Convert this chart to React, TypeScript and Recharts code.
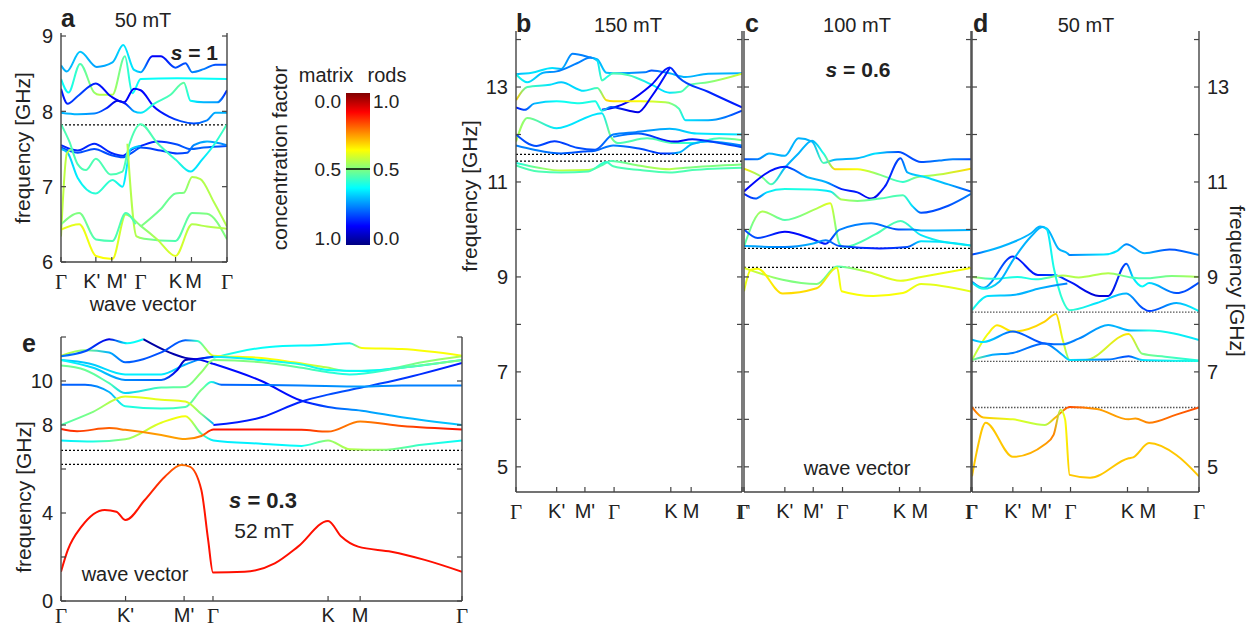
import { LineChart, Line, XAxis, YAxis, ReferenceLine } from 'recharts'

// [position along the Γ-K'-M'-Γ-K-M-Γ path (0..1), frequency in GHz, rod concentration (0..1)]
type Pt = [number, number, number]

const pathLabels = ['Γ', "K'", "M'", 'Γ', 'K', 'M', 'Γ']
const ticksA = [0, 0.21, 0.306, 0.48, 0.69, 0.786, 1]
const ticksBCD = [0, 0.18, 0.305, 0.434, 0.685, 0.775, 1]
const ticksE = [0, 0.161, 0.307, 0.379, 0.666, 0.746, 1]

const freqTicksA = [6, 7, 8, 9]
const freqTicksBCD = [5, 6, 7, 8, 9, 10, 11, 12, 13, 14]
const freqTicksE = [0, 2, 4, 6, 8, 10, 12]
const labelsA = [6, 7, 8, 9]
const labelsBCD = [5, 7, 9, 11, 13]
const labelsE = [0, 4, 8, 10]

const gapsA = [7.82]
const gapsB = [11.58, 11.44]
const gapsC = [9.6, 9.2]
const gapsD = [8.26, 7.22, 6.25]
const gapsE = [6.85, 6.21]

const bandsA: Pt[][] = [
  [[0, 8.61, 0.3], [0.035, 8.53, 0.3], [0.115, 8.79, 0.32], [0.215, 8.59, 0.28], [0.31, 8.65, 0.3], [0.375, 8.88, 0.35], [0.44, 8.55, 0.35], [0.48, 8.52, 0.3], [0.55, 8.73, 0.12], [0.6, 8.73, 0.12], [0.69, 8.58, 0.2], [0.75, 8.64, 0.2], [0.79, 8.52, 0.25], [0.86, 8.56, 0.25], [0.93, 8.62, 0.2], [1, 8.62, 0.2]],
  [[0, 8.43, 0.38], [0.045, 8.25, 0.38], [0.115, 8.63, 0.45], [0.2, 8.25, 0.52], [0.23, 8.22, 0.55], [0.31, 8.22, 0.55], [0.385, 8.73, 0.45], [0.43, 8.24, 0.38], [0.48, 8.43, 0.38], [0.7, 8.44, 0.38], [1, 8.43, 0.38]],
  [[0, 8.3, 0.14], [0.04, 8.1, 0.16], [0.1, 8.2, 0.2], [0.21, 8.37, 0.15], [0.3, 8.2, 0.12], [0.38, 8.12, 0.12], [0.44, 8.3, 0.12], [0.48, 8.28, 0.13], [0.56, 8.06, 0.13], [0.65, 7.93, 0.16], [0.72, 7.87, 0.2], [0.8, 7.84, 0.2], [0.88, 7.88, 0.25], [0.93, 7.98, 0.3], [1, 7.98, 0.3]],
  [[0, 7.98, 0.3], [0.1, 7.96, 0.3], [0.2, 7.97, 0.26], [0.28, 8.05, 0.15], [0.34, 8.14, 0.1], [0.39, 8.1, 0.15], [0.44, 8.0, 0.3], [0.48, 7.98, 0.35], [0.56, 8.1, 0.42], [0.66, 8.22, 0.45], [0.74, 8.38, 0.47], [0.78, 8.14, 0.38], [0.86, 8.12, 0.3], [0.94, 8.12, 0.28], [1, 8.28, 0.15]],
  [[0, 7.55, 0.16], [0.1, 7.48, 0.16], [0.2, 7.57, 0.16], [0.3, 7.45, 0.16], [0.37, 7.41, 0.16], [0.43, 7.5, 0.16], [0.48, 7.54, 0.16], [0.58, 7.6, 0.16], [0.7, 7.56, 0.2], [0.78, 7.5, 0.22], [0.86, 7.52, 0.22], [1, 7.54, 0.2]],
  [[0, 7.52, 0.2], [0.1, 7.45, 0.2], [0.2, 7.5, 0.2], [0.3, 7.42, 0.2], [0.37, 7.39, 0.2], [0.44, 7.47, 0.2], [0.48, 7.52, 0.2], [0.6, 7.48, 0.18], [0.7, 7.44, 0.18], [0.76, 7.45, 0.2], [0.8, 7.55, 0.26], [0.88, 7.6, 0.3], [1, 7.55, 0.25]],
  [[0, 7.5, 0.3], [0.04, 7.45, 0.32], [0.1, 7.12, 0.36], [0.21, 6.91, 0.42], [0.31, 7.09, 0.42], [0.37, 7.0, 0.36], [0.42, 7.5, 0.35], [0.48, 7.54, 0.3]],
  [[0, 7.83, 0.45], [0.05, 7.6, 0.45], [0.1, 7.3, 0.45], [0.15, 7.22, 0.45], [0.21, 7.37, 0.45], [0.3, 7.16, 0.45], [0.37, 7.2, 0.45], [0.41, 7.55, 0.45], [0.48, 7.83, 0.45], [0.58, 7.58, 0.45], [0.69, 7.36, 0.42], [0.78, 7.2, 0.35], [0.85, 7.36, 0.35], [0.92, 7.55, 0.4], [1, 7.83, 0.45]],
  [[0, 6.34, 0.56], [0.035, 7.44, 0.56], [0.06, 7.5, 0.5]],
  [[0.4, 7.57, 0.55], [0.455, 6.34, 0.55], [0.5, 6.31, 0.5], [0.69, 6.28, 0.45], [0.79, 6.65, 0.48], [0.88, 6.64, 0.5], [1, 6.3, 0.5]],
  [[0.48, 6.47, 0.5], [0.6, 6.7, 0.48], [0.69, 6.91, 0.48], [0.74, 6.92, 0.5], [0.79, 7.13, 0.55], [0.84, 7.1, 0.55], [0.92, 6.8, 0.55], [1, 6.47, 0.55]],
  [[0, 6.43, 0.6], [0.11, 6.5, 0.6], [0.21, 6.08, 0.62], [0.31, 6.04, 0.62], [0.39, 6.63, 0.55], [0.48, 6.48, 0.5], [0.58, 6.3, 0.55], [0.69, 6.08, 0.6], [0.79, 6.5, 0.55], [0.88, 6.47, 0.55], [1, 6.44, 0.55]],
  [[0, 6.5, 0.5], [0.11, 6.65, 0.5], [0.21, 6.3, 0.45], [0.31, 6.28, 0.45], [0.39, 6.65, 0.45], [0.45, 6.5, 0.45]],
]

const bandsB: Pt[][] = [
  [[0, 13.27, 0.3], [0.07, 13.3, 0.35], [0.16, 13.4, 0.35], [0.2, 13.38, 0.3], [0.25, 13.7, 0.25], [0.33, 13.62, 0.25], [0.36, 13.58, 0.3], [0.4, 13.3, 0.32], [0.43, 13.29, 0.3], [0.57, 13.31, 0.25], [0.6, 13.35, 0.2], [0.68, 13.29, 0.3], [0.75, 13.21, 0.3], [0.85, 13.28, 0.3], [1, 13.29, 0.3]],
  [[0, 13.27, 0.4], [0.05, 13.1, 0.35], [0.12, 13.3, 0.3], [0.18, 13.33, 0.25], [0.27, 13.5, 0.25], [0.33, 13.62, 0.25], [0.36, 13.55, 0.35], [0.38, 13.14, 0.45], [0.4, 13.2, 0.4], [0.43, 13.29, 0.45], [0.5, 13.25, 0.45], [0.6, 13.05, 0.35], [0.68, 12.88, 0.35], [0.73, 12.9, 0.45], [0.77, 13.05, 0.45], [0.85, 13.1, 0.5], [1, 13.28, 0.58]],
  [[0.38, 12.52, 0.12], [0.44, 12.58, 0.12], [0.5, 12.7, 0.12], [0.6, 13.05, 0.12], [0.68, 13.41, 0.15], [0.72, 13.2, 0.2], [0.85, 12.9, 0.16], [1, 12.57, 0.15]],
  [[0, 12.72, 0.68], [0.05, 13.0, 0.45], [0.15, 13.05, 0.35], [0.2, 13.1, 0.32], [0.3, 12.92, 0.35], [0.36, 12.98, 0.45], [0.4, 12.72, 0.66], [0.43, 12.7, 0.66], [0.55, 12.7, 0.62], [0.66, 12.68, 0.55], [0.72, 12.55, 0.45], [0.75, 12.3, 0.35], [0.85, 12.3, 0.3], [1, 12.5, 0.18]],
  [[0, 12.57, 0.15], [0.04, 12.52, 0.2], [0.08, 12.65, 0.3], [0.18, 12.7, 0.38], [0.28, 12.66, 0.4], [0.35, 12.7, 0.4], [0.38, 12.5, 0.4], [0.42, 12.58, 0.2], [0.5, 12.5, 0.1], [0.54, 12.47, 0.1], [0.6, 12.8, 0.12], [0.68, 13.4, 0.15]],
  [[0, 11.85, 0.55], [0.05, 12.35, 0.5], [0.18, 12.13, 0.35], [0.38, 12.45, 0.35], [0.42, 11.95, 0.5], [0.45, 11.82, 0.45], [0.58, 11.92, 0.45], [0.7, 11.82, 0.45], [0.78, 11.82, 0.4], [0.9, 11.92, 0.45], [1, 11.88, 0.5]],
  [[0, 12.0, 0.2], [0.09, 11.76, 0.2], [0.17, 11.86, 0.18], [0.27, 11.72, 0.2], [0.35, 11.68, 0.2], [0.43, 12.0, 0.25], [0.53, 12.05, 0.25], [0.68, 12.12, 0.3], [0.8, 12.02, 0.35], [1, 12.0, 0.35]],
  [[0, 11.77, 0.25], [0.08, 11.68, 0.25], [0.2, 11.6, 0.22], [0.3, 11.64, 0.2], [0.35, 11.66, 0.22], [0.43, 11.77, 0.25], [0.55, 11.7, 0.2], [0.65, 11.6, 0.18], [0.68, 11.6, 0.2], [0.72, 11.62, 0.3], [0.78, 11.8, 0.3], [0.85, 11.85, 0.3], [1, 11.77, 0.25]],
  [[0.43, 11.95, 0.25], [0.54, 12.02, 0.22], [0.7, 11.85, 0.12], [0.78, 11.9, 0.15], [0.9, 11.82, 0.2], [1, 11.73, 0.2]],
  [[0, 11.4, 0.4], [0.1, 11.3, 0.5], [0.2, 11.24, 0.56], [0.32, 11.25, 0.56], [0.38, 11.35, 0.45], [0.42, 11.44, 0.45], [0.55, 11.34, 0.52], [0.68, 11.27, 0.56], [0.75, 11.3, 0.5], [1, 11.37, 0.5]],
  [[0, 11.35, 0.45], [0.1, 11.22, 0.45], [0.2, 11.2, 0.45], [0.32, 11.22, 0.45], [0.4, 11.42, 0.42], [0.43, 11.33, 0.45], [0.55, 11.25, 0.45], [0.68, 11.2, 0.45], [0.78, 11.25, 0.45], [1, 11.3, 0.45]],
]

const bandsC: Pt[][] = [
  [[0, 11.48, 0.2], [0.06, 11.48, 0.25], [0.11, 11.6, 0.3], [0.18, 11.55, 0.3], [0.24, 11.92, 0.3], [0.3, 11.85, 0.3], [0.35, 11.4, 0.45], [0.4, 11.47, 0.3], [0.5, 11.5, 0.3], [0.58, 11.6, 0.35], [0.68, 11.63, 0.2], [0.78, 11.42, 0.2], [0.86, 11.45, 0.25], [0.92, 11.48, 0.25], [1, 11.48, 0.2]],
  [[0, 11.28, 0.65], [0.08, 11.1, 0.5], [0.12, 10.95, 0.45], [0.18, 11.3, 0.3], [0.24, 11.6, 0.3], [0.3, 11.87, 0.3], [0.35, 11.6, 0.4], [0.4, 11.27, 0.66], [0.5, 11.27, 0.62], [0.6, 11.15, 0.5], [0.7, 11.0, 0.42], [0.76, 11.1, 0.5], [0.85, 11.15, 0.55], [1, 11.28, 0.66]],
  [[0, 10.8, 0.12], [0.18, 11.32, 0.15], [0.28, 11.1, 0.3], [0.36, 11.0, 0.3], [0.43, 10.85, 0.15], [0.5, 10.78, 0.15], [0.56, 10.65, 0.1], [0.62, 10.9, 0.15], [0.69, 11.5, 0.2], [0.72, 11.2, 0.3], [0.8, 11.1, 0.35], [0.9, 10.95, 0.3], [1, 10.8, 0.2]],
  [[0, 10.75, 0.15], [0.05, 10.65, 0.2], [0.1, 10.78, 0.35], [0.18, 10.85, 0.4], [0.3, 10.84, 0.4], [0.38, 10.8, 0.35], [0.43, 10.63, 0.55], [0.5, 10.6, 0.5], [0.6, 10.65, 0.45], [0.7, 10.72, 0.45], [0.74, 10.5, 0.35], [0.78, 10.35, 0.2], [0.9, 10.5, 0.2], [1, 10.75, 0.25]],
  [[0, 9.64, 0.45], [0.08, 10.38, 0.55], [0.18, 10.2, 0.45], [0.32, 10.44, 0.55], [0.38, 10.55, 0.6], [0.42, 9.7, 0.45], [0.44, 9.63, 0.45], [0.58, 9.9, 0.45], [0.69, 10.18, 0.45], [0.78, 9.88, 0.35], [1, 9.66, 0.45]],
  [[0, 10.0, 0.2], [0.06, 9.82, 0.2], [0.18, 9.95, 0.12], [0.3, 9.8, 0.15], [0.36, 9.7, 0.15], [0.42, 9.99, 0.25], [0.56, 10.13, 0.25], [0.68, 10.0, 0.2], [0.74, 10.0, 0.25], [0.78, 9.98, 0.3], [1, 9.99, 0.3]],
  [[0, 9.65, 0.3], [0.18, 9.63, 0.25], [0.3, 9.7, 0.3], [0.36, 9.77, 0.25], [0.42, 9.65, 0.2], [0.6, 9.6, 0.15], [0.72, 9.63, 0.2], [0.78, 9.75, 0.35], [0.86, 9.74, 0.35], [1, 9.66, 0.35]],
  [[0, 9.19, 0.6], [0.17, 8.94, 0.5], [0.32, 8.85, 0.5], [0.41, 9.22, 0.45], [0.55, 9.1, 0.58], [0.69, 8.92, 0.6], [0.78, 9.0, 0.6], [1, 9.19, 0.62]],
  [[0, 8.7, 0.6], [0.03, 9.15, 0.62], [0.06, 9.17, 0.62], [0.17, 8.65, 0.66], [0.32, 8.76, 0.66], [0.41, 9.2, 0.6], [0.43, 8.7, 0.62], [0.57, 8.6, 0.62], [0.7, 8.66, 0.62], [0.78, 8.85, 0.6], [1, 8.69, 0.6]],
]

const bandsD: Pt[][] = [
  [[0, 9.47, 0.18], [0.07, 9.55, 0.3], [0.18, 9.73, 0.3], [0.26, 9.92, 0.3], [0.3, 10.06, 0.3], [0.33, 10.02, 0.3], [0.38, 9.6, 0.3], [0.42, 9.5, 0.3], [0.43, 9.46, 0.25], [0.58, 9.47, 0.35], [0.64, 9.55, 0.35], [0.68, 9.69, 0.25], [0.76, 9.5, 0.3], [0.87, 9.58, 0.2], [1, 9.46, 0.25]],
  [[0, 8.9, 0.2], [0.05, 8.77, 0.3], [0.18, 9.43, 0.15], [0.29, 9.04, 0.15], [0.36, 9.04, 0.2], [0.43, 8.9, 0.15], [0.56, 8.6, 0.08], [0.6, 8.6, 0.1], [0.68, 9.28, 0.2], [0.71, 8.98, 0.35], [0.75, 8.8, 0.38], [0.78, 8.87, 0.35], [0.9, 8.66, 0.2], [1, 8.88, 0.2]],
  [[0, 9.0, 0.55], [0.1, 8.96, 0.4], [0.2, 9.0, 0.4], [0.28, 8.95, 0.4], [0.4, 9.03, 0.55], [0.47, 8.99, 0.55], [0.6, 9.08, 0.55], [0.7, 8.99, 0.45], [0.76, 8.97, 0.45], [0.88, 9.02, 0.5], [1, 9.0, 0.55]],
  [[0, 8.88, 0.35], [0.05, 8.75, 0.4], [0.12, 8.9, 0.3], [0.18, 9.35, 0.3], [0.26, 9.85, 0.3], [0.31, 10.05, 0.3], [0.33, 10.0, 0.35], [0.36, 9.2, 0.4], [0.4, 8.5, 0.42], [0.43, 8.3, 0.42], [0.55, 8.45, 0.35], [0.68, 8.65, 0.3], [0.75, 8.35, 0.2], [0.78, 8.28, 0.18], [0.9, 8.45, 0.3], [1, 8.28, 0.38]],
  [[0, 8.3, 0.4], [0.07, 8.6, 0.35], [0.18, 8.62, 0.3], [0.3, 8.76, 0.3], [0.42, 8.86, 0.25]],
  [[0, 7.25, 0.55], [0.07, 7.8, 0.62], [0.11, 7.98, 0.65], [0.18, 7.85, 0.65], [0.32, 8.06, 0.67], [0.37, 8.22, 0.67], [0.4, 7.67, 0.6], [0.43, 7.25, 0.5], [0.5, 7.25, 0.55], [0.69, 7.8, 0.65], [0.75, 7.38, 0.5], [0.85, 7.32, 0.45], [1, 7.24, 0.4]],
  [[0, 7.68, 0.3], [0.05, 7.63, 0.35], [0.18, 7.85, 0.22], [0.32, 7.6, 0.2], [0.4, 7.58, 0.25], [0.47, 7.7, 0.25], [0.6, 7.99, 0.3], [0.7, 7.87, 0.3], [0.78, 7.87, 0.4], [1, 7.67, 0.35]],
  [[0, 7.25, 0.5], [0.08, 7.35, 0.3], [0.18, 7.4, 0.25], [0.32, 7.6, 0.22], [0.4, 7.35, 0.3], [0.43, 7.25, 0.35], [0.6, 7.26, 0.25], [0.69, 7.33, 0.2], [0.75, 7.25, 0.35], [1, 7.23, 0.4]],
  [[0, 6.26, 0.78], [0.05, 6.04, 0.68], [0.18, 6.0, 0.6], [0.32, 5.88, 0.55], [0.37, 6.05, 0.7], [0.43, 6.26, 0.8], [0.55, 6.22, 0.72], [0.69, 6.0, 0.72], [0.72, 6.02, 0.72], [0.78, 5.93, 0.75], [0.9, 6.1, 0.78], [1, 6.25, 0.8]],
  [[0, 4.8, 0.68], [0.02, 5.3, 0.68], [0.06, 5.93, 0.68], [0.18, 5.21, 0.68], [0.32, 5.47, 0.72], [0.36, 5.68, 0.75], [0.39, 6.2, 0.55], [0.41, 6.0, 0.62], [0.43, 4.83, 0.68], [0.52, 4.77, 0.68], [0.69, 5.18, 0.68], [0.71, 5.2, 0.68], [0.78, 5.5, 0.68], [0.9, 5.25, 0.68], [1, 4.8, 0.68]],
]

const bandsE: Pt[][] = [
  [[0.205, 11.9, 0.03], [0.27, 11.3, 0.04], [0.31, 11.05, 0.05], [0.35, 10.95, 0.1], [0.38, 10.78, 0.14], [0.5, 10.0, 0.13], [0.6, 9.1, 0.14], [0.666, 8.82, 0.2], [0.75, 8.65, 0.28], [0.85, 8.35, 0.3], [1, 8.0, 0.32]],
  [[0.38, 8.0, 0.15], [0.5, 8.35, 0.15], [0.6, 9.07, 0.16], [0.666, 9.38, 0.2], [0.75, 9.7, 0.2], [0.85, 10.1, 0.18], [1, 10.82, 0.15]],
  [[0.38, 11.05, 0.4], [0.52, 11.55, 0.38], [0.66, 11.65, 0.36], [0.72, 11.72, 0.36], [0.75, 11.5, 0.62], [0.85, 11.45, 0.62], [1, 11.15, 0.62]],
  [[0, 11.15, 0.58], [0.06, 11.4, 0.5], [0.12, 11.3, 0.3], [0.16, 10.85, 0.22], [0.25, 11.3, 0.2], [0.31, 11.85, 0.22], [0.34, 11.82, 0.42], [0.38, 11.15, 0.62], [0.5, 11.05, 0.62], [0.58, 10.85, 0.62], [0.66, 10.62, 0.55], [0.72, 10.45, 0.45], [0.8, 10.5, 0.45], [0.9, 10.85, 0.5], [1, 11.12, 0.55]],
  [[0, 11.12, 0.25], [0.06, 11.35, 0.2], [0.12, 11.9, 0.1], [0.165, 11.72, 0.38], [0.205, 11.9, 0.38]],
  [[0, 10.95, 0.32], [0.07, 10.8, 0.32], [0.16, 10.3, 0.36], [0.25, 10.3, 0.36], [0.31, 10.75, 0.3], [0.34, 10.95, 0.25], [0.38, 11.1, 0.35], [0.5, 10.95, 0.38], [0.6, 10.75, 0.4], [0.666, 10.5, 0.38], [0.75, 10.45, 0.38], [0.85, 10.6, 0.36], [1, 10.95, 0.36]],
  [[0, 10.95, 0.38], [0.08, 10.6, 0.34], [0.16, 10.05, 0.26], [0.25, 10.05, 0.22], [0.29, 10.5, 0.1], [0.31, 10.95, 0.05], [0.34, 11.0, 0.1], [0.38, 11.1, 0.2]],
  [[0, 10.7, 0.48], [0.06, 10.5, 0.48], [0.12, 9.9, 0.45], [0.16, 9.45, 0.33], [0.25, 9.7, 0.45], [0.31, 9.73, 0.48], [0.35, 10.4, 0.52], [0.38, 10.95, 0.5], [0.5, 10.85, 0.5], [0.6, 10.6, 0.46], [0.666, 10.4, 0.42], [0.72, 10.3, 0.4], [0.85, 10.6, 0.45], [1, 10.95, 0.5]],
  [[0, 9.83, 0.22], [0.06, 9.83, 0.22], [0.12, 9.5, 0.3], [0.16, 8.85, 0.4], [0.25, 8.75, 0.42], [0.31, 8.82, 0.45], [0.35, 9.6, 0.5], [0.375, 9.95, 0.4], [0.4, 9.83, 0.22], [0.6, 9.8, 0.25], [0.75, 9.75, 0.28], [0.85, 9.8, 0.25], [1, 9.8, 0.25]],
  [[0, 8.0, 0.45], [0.08, 8.6, 0.5], [0.16, 9.3, 0.6], [0.25, 9.15, 0.6], [0.31, 9.07, 0.6], [0.35, 8.5, 0.5], [0.38, 8.05, 0.3]],
  [[0, 7.3, 0.36], [0.08, 7.25, 0.4], [0.16, 7.35, 0.52], [0.25, 8.1, 0.6], [0.31, 8.4, 0.62], [0.35, 7.6, 0.45], [0.38, 7.3, 0.36], [0.5, 7.15, 0.36], [0.6, 7.05, 0.38], [0.666, 7.3, 0.52], [0.72, 6.9, 0.55], [0.8, 6.87, 0.52], [0.9, 7.1, 0.42], [1, 7.3, 0.38]],
  [[0, 7.82, 0.85], [0.04, 7.72, 0.82], [0.12, 7.86, 0.78], [0.16, 7.78, 0.75], [0.25, 7.55, 0.72], [0.31, 7.36, 0.72], [0.35, 7.5, 0.76], [0.38, 7.79, 0.86], [0.5, 7.8, 0.86], [0.6, 7.78, 0.84], [0.666, 7.7, 0.78], [0.746, 8.16, 0.75], [0.85, 7.95, 0.8], [1, 7.8, 0.86]],
  [[0, 1.33, 0.86], [0.017, 2.32, 0.86], [0.051, 3.38, 0.86], [0.109, 4.14, 0.86], [0.138, 4.06, 0.86], [0.161, 3.68, 0.86], [0.209, 4.59, 0.85], [0.259, 5.65, 0.82], [0.3, 6.18, 0.76], [0.321, 6.11, 0.78], [0.35, 5.05, 0.85], [0.367, 2.77, 0.86], [0.379, 1.3, 0.86], [0.458, 1.33, 0.86], [0.533, 1.71, 0.86], [0.591, 2.47, 0.86], [0.666, 3.64, 0.86], [0.699, 2.93, 0.86], [0.741, 2.47, 0.86], [0.824, 2.24, 0.86], [0.907, 1.87, 0.86], [1, 1.33, 0.86]],
]

const jet = (v: number) => {
  const c = (t: number) => Math.round(255 * Math.max(0, Math.min(1, t)))
  return `rgb(${c(1.5 - Math.abs(4 * v - 3))},${c(1.5 - Math.abs(4 * v - 2))},${c(1.5 - Math.abs(4 * v - 1))})`
}

const LW = 60
const RW = 60
const TP = 10
const BH = 45
const ink = '#222'
const frame = '#444'
const sans = 'Liberation Sans, Arial, sans-serif'
const serif = 'Liberation Serif, Times New Roman, serif'

type PanelProps = {
  id: string
  x: number
  y: number
  w: number
  h: number
  yDomain: [number, number]
  yTicks: number[]
  leftLabels: number[]
  rightLabels: number[]
  xTicks: number[]
  bands: Pt[][]
  gaps: number[]
  gapStroke?: string
  labelShift?: number[]
  xGap?: number
}

function Panel(p: PanelProps) {
  const width = p.w + LW + RW
  const height = p.h + TP + BH
  const axisLine = { stroke: frame, strokeWidth: 1.4 }
  const tickLine = { stroke: frame, strokeWidth: 1.2 }

  const xTick = (props: any) => {
    const i = p.xTicks.indexOf(props.payload.value)
    const lab = pathLabels[i]
    const dx = p.labelShift ? p.labelShift[i] : 0
    return (
      <text x={props.x + dx} y={props.y} dy="0.72em" textAnchor="middle" fontSize={lab === 'Γ' ? 21 : 20}
        fontFamily={lab === 'Γ' ? serif : sans} fill={ink}>{lab}</text>
    )
  }
  const yTick = (labels: number[], anchor: 'start' | 'end') => (props: any) =>
    labels.includes(props.payload.value) ? (
      <text x={props.x} y={props.y} dy="0.36em" textAnchor={anchor} fontSize={20} fontFamily={sans} fill={ink}>
        {props.payload.value}
      </text>
    ) : <g />

  return (
    <div style={{ position: 'absolute', left: p.x - LW, top: p.y - TP }}>
      <LineChart width={width} height={height} margin={{ top: TP, right: 0, bottom: 0, left: 0 }}>
        <defs>
          {p.bands.map((b, i) => (
            <linearGradient key={i} id={`${p.id}${i}`} gradientUnits="userSpaceOnUse" x1={LW} x2={LW + p.w} y1={0} y2={0}>
              {b.map(([x, , c], j) => <stop key={j} offset={x} stopColor={jet(c)} />)}
            </linearGradient>
          ))}
        </defs>
        <XAxis xAxisId="b" type="number" dataKey="x" domain={[0, 1]} ticks={p.xTicks} interval={0} height={BH}
          tickSize={-5} tickMargin={p.xGap ?? 17} axisLine={axisLine} tickLine={tickLine} tick={xTick} allowDataOverflow />
        <XAxis xAxisId="t" orientation="top" type="number" dataKey="x" domain={[0, 1]} ticks={p.xTicks} interval={0}
          height={0} tickSize={-5} axisLine={axisLine} tickLine={tickLine} tick={false} allowDataOverflow />
        <YAxis yAxisId="l" type="number" domain={p.yDomain} ticks={p.yTicks} interval={0} width={LW}
          tickSize={-5} tickMargin={13} axisLine={axisLine} tickLine={tickLine} tick={yTick(p.leftLabels, 'end')} allowDataOverflow />
        <YAxis yAxisId="r" orientation="right" type="number" domain={p.yDomain} ticks={p.yTicks} interval={0} width={RW}
          tickSize={-5} tickMargin={13} axisLine={axisLine} tickLine={tickLine} tick={yTick(p.rightLabels, 'start')} allowDataOverflow />
        {p.gaps.map((g) => (
          <ReferenceLine key={g} y={g} xAxisId="b" yAxisId="l" stroke={p.gapStroke || '#000'}
            strokeDasharray={p.gapStroke ? '1.5 1.5' : '2 2'} strokeWidth={1.3} />
        ))}
        {p.bands.map((b, i) => (
          <Line key={i} data={b.map(([x, f]) => ({ x, f }))} dataKey="f" xAxisId="b" yAxisId="l" type="monotone"
            dot={false} stroke={`url(#${p.id}${i})`} strokeWidth={2} isAnimationActive={false} />
        ))}
      </LineChart>
    </div>
  )
}

const barStops = Array.from({ length: 17 }, (_, i) => i / 16)

export default function App() {
  const t = { fontFamily: sans, fill: ink }
  return (
    <div style={{ position: 'absolute', left: 0, top: 0, width: 1255, height: 626, background: '#fff', overflow: 'hidden' }}>
      <Panel id="a" x={61} y={33} w={166} h={229} yDomain={[6, 9.04]} yTicks={freqTicksA} leftLabels={labelsA}
        rightLabels={[]} xTicks={ticksA} bands={bandsA} gaps={gapsA} labelShift={[0, -4, 5, 0, 0, 2, 0]} />
      <Panel id="b" x={516} y={31} w={226} h={461} yDomain={[4.47, 14.18]} yTicks={freqTicksBCD} leftLabels={labelsBCD}
        rightLabels={[]} xTicks={ticksBCD} bands={bandsB} gaps={gapsB} />
      <Panel id="c" x={744} y={31} w={227} h={461} yDomain={[4.47, 14.18]} yTicks={freqTicksBCD} leftLabels={[]}
        rightLabels={[]} xTicks={ticksBCD} bands={bandsC} gaps={gapsC} />
      <Panel id="d" x={972} y={31} w={227} h={461} yDomain={[4.47, 14.18]} yTicks={freqTicksBCD} leftLabels={[]}
        rightLabels={labelsBCD} xTicks={ticksBCD} bands={bandsD} gaps={gapsD} gapStroke="#555" />
      <Panel id="e" x={61} y={337} w={401} h={264} yDomain={[0, 12]} yTicks={freqTicksE} leftLabels={labelsE}
        rightLabels={[]} xTicks={ticksE} bands={bandsE} gaps={gapsE} xGap={12} />

      <svg width={1255} height={626} style={{ position: 'absolute', left: 0, top: 0, pointerEvents: 'none' }}>
        <defs>
          <linearGradient id="jetbar" x1={0} y1={1} x2={0} y2={0}>
            {barStops.map((v) => <stop key={v} offset={v} stopColor={jet(v)} />)}
          </linearGradient>
        </defs>

        <text x={61} y={27} fontSize={25} fontWeight="bold" {...t}>a</text>
        <text x={143} y={27} fontSize={20} textAnchor="middle" {...t}>50 mT</text>
        <text x={218} y={60} fontSize={21} fontWeight="bold" textAnchor="end" {...t}>
          <tspan fontStyle="italic">s</tspan> = 1
        </text>
        <text x={143} y={311} fontSize={20} textAnchor="middle" {...t}>wave vector</text>
        <text transform="translate(23,148) rotate(-90)" dy="0.35em" fontSize={21} textAnchor="middle" {...t}>frequency [GHz]</text>

        <rect x={346} y={93} width={24} height={152} fill="url(#jetbar)" />
        <line x1={346} x2={370} y1={169} y2={169} stroke="#000" strokeWidth={1.5} />
        <text x={326} y={82} fontSize={20} textAnchor="middle" {...t}>matrix</text>
        <text x={387} y={82} fontSize={20} textAnchor="middle" {...t}>rods</text>
        <text x={341} y={101} dy="0.36em" fontSize={19} textAnchor="end" {...t}>0.0</text>
        <text x={341} y={169} dy="0.36em" fontSize={19} textAnchor="end" {...t}>0.5</text>
        <text x={341} y={238} dy="0.36em" fontSize={19} textAnchor="end" {...t}>1.0</text>
        <text x={373} y={101} dy="0.36em" fontSize={19} {...t}>1.0</text>
        <text x={373} y={169} dy="0.36em" fontSize={19} {...t}>0.5</text>
        <text x={373} y={238} dy="0.36em" fontSize={19} {...t}>0.0</text>
        <text transform="translate(280,158) rotate(-90)" dy="0.35em" fontSize={21} textAnchor="middle" {...t}>concentration factor</text>

        <text x={516} y={32} fontSize={25} fontWeight="bold" {...t}>b</text>
        <text x={628} y={32} fontSize={20} textAnchor="middle" {...t}>150 mT</text>
        <text transform="translate(470,196) rotate(-90)" dy="0.35em" fontSize={21} textAnchor="middle" {...t}>frequency [GHz]</text>

        <text x={745} y={32} fontSize={25} fontWeight="bold" {...t}>c</text>
        <text x={857} y={32} fontSize={20} textAnchor="middle" {...t}>100 mT</text>
        <text x={858} y={77} fontSize={21} fontWeight="bold" textAnchor="middle" {...t}>
          <tspan fontStyle="italic">s</tspan> = 0.6
        </text>
        <text x={857} y={475} fontSize={20} textAnchor="middle" {...t}>wave vector</text>

        <text x={973} y={32} fontSize={25} fontWeight="bold" {...t}>d</text>
        <text x={1086} y={32} fontSize={20} textAnchor="middle" {...t}>50 mT</text>
        <text transform="translate(1237,281) rotate(90)" dy="0.35em" fontSize={21} textAnchor="middle" {...t}>frequency [GHz]</text>

        <text x={22} y={352} fontSize={25} fontWeight="bold" {...t}>e</text>
        <text x={263} y={508} fontSize={22} fontWeight="bold" textAnchor="middle" {...t}>
          <tspan fontStyle="italic">s</tspan> = 0.3
        </text>
        <text x={264} y={538} fontSize={21} textAnchor="middle" {...t}>52 mT</text>
        <text x={135} y={581} fontSize={20} textAnchor="middle" {...t}>wave vector</text>
        <text transform="translate(24,497) rotate(-90)" dy="0.35em" fontSize={21} textAnchor="middle" {...t}>frequency [GHz]</text>
      </svg>
    </div>
  )
}
